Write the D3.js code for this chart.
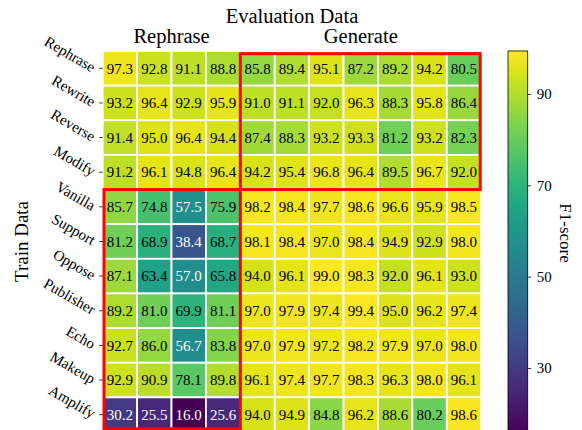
<!DOCTYPE html>
<html>
<head>
<meta charset="utf-8">
<script src="https://cdn.jsdelivr.net/npm/d3@7"></script>
<style>
  html, body { margin: 0; padding: 0; background: #fff; }
  svg { display: block; font-family: "Liberation Serif", "Times New Roman", Times, serif; }
</style>
</head>
<body>
<svg id="chart" width="582" height="430"></svg>
<script>
// Training sets (rows) and evaluation sets (columns)
const trainSets = ["Rephrase", "Rewrite", "Reverse", "Modify", "Vanilla", "Support",
                   "Oppose", "Publisher", "Echo", "Makeup", "Amplify"];
const evalSets = ["Rephrase", "Rewrite", "Reverse", "Modify", "Vanilla", "Support",
                  "Oppose", "Publisher", "Echo", "Makeup", "Amplify"];

// Grouping of the sets: first four are rephrasing types, the rest generated
const groupNames = ["Rephrase", "Generate"];
const groupSizes = [4, 7];

// F1-scores, one row per training set
const scores = [
  [97.3, 92.8, 91.1, 88.8, 85.8, 89.4, 95.1, 87.2, 89.2, 94.2, 80.5],
  [93.2, 96.4, 92.9, 95.9, 91.0, 91.1, 92.0, 96.3, 88.3, 95.8, 86.4],
  [91.4, 95.0, 96.4, 94.4, 87.4, 88.3, 93.2, 93.3, 81.2, 93.2, 82.3],
  [91.2, 96.1, 94.8, 96.4, 94.2, 95.4, 96.8, 96.4, 89.5, 96.7, 92.0],
  [85.7, 74.8, 57.5, 75.9, 98.2, 98.4, 97.7, 98.6, 96.6, 95.9, 98.5],
  [81.2, 68.9, 38.4, 68.7, 98.1, 98.4, 97.0, 98.4, 94.9, 92.9, 98.0],
  [87.1, 63.4, 57.0, 65.8, 94.0, 96.1, 99.0, 98.3, 92.0, 96.1, 93.0],
  [89.2, 81.0, 69.9, 81.1, 97.0, 97.9, 97.4, 99.4, 95.0, 96.2, 97.4],
  [92.7, 86.0, 56.7, 83.8, 97.0, 97.9, 97.2, 98.2, 97.9, 97.0, 98.0],
  [92.9, 90.9, 78.1, 89.8, 96.1, 97.4, 97.7, 98.3, 96.3, 98.0, 96.1],
  [30.2, 25.5, 16.0, 25.6, 94.0, 94.9, 84.8, 96.2, 88.6, 80.2, 98.6]
];

const colorbarTicks = [30, 50, 70, 90];

// ---- layout ----
const plot = { left: 102.7, right: 481.2, top: 51, bottom: 432 };
const cbar = { left: 508, width: 19.7 };

const svg = d3.select("#chart");

const x = d3.scaleBand().domain(evalSets).range([plot.left, plot.right]);
const y = d3.scaleBand().domain(trainSets).range([plot.top, plot.bottom]);
const color = d3.scaleSequential(d3.interpolateViridis).domain(d3.extent(scores.flat()));

// ---- cells ----
const cells = [];
scores.forEach((row, i) => row.forEach((v, j) => cells.push({ r: trainSets[i], c: evalSets[j], v })));

const cellG = svg.append("g");
cellG.selectAll("rect").data(cells).join("rect")
  .attr("x", d => x(d.c))
  .attr("y", d => y(d.r))
  .attr("width", x.bandwidth())
  .attr("height", y.bandwidth())
  .attr("fill", d => color(d.v))
  .attr("stroke", "#fff")
  .attr("stroke-width", 1.8);

cellG.selectAll("text").data(cells).join("text")
  .attr("x", d => x(d.c) + x.bandwidth() / 2)
  .attr("y", d => y(d.r) + y.bandwidth() / 2)
  .attr("dy", "0.35em")
  .attr("text-anchor", "middle")
  .attr("font-size", 15)
  .attr("fill", d => d.v < 60 ? "#fff" : "#000")
  .text(d => d.v.toFixed(1));

// ---- cross-group boxes (off-diagonal blocks) ----
const groupStart = groupSizes.map((s, i) => d3.sum(groupSizes.slice(0, i)));
const boxes = [];
groupNames.forEach((_, gi) => groupNames.forEach((__, gj) => {
  if (gi !== gj) boxes.push({ rows: [groupStart[gi], groupStart[gi] + groupSizes[gi] - 1],
                              cols: [groupStart[gj], groupStart[gj] + groupSizes[gj] - 1] });
}));
const near = (a, b) => Math.abs(a - b) < 0.5;
svg.append("g").selectAll("rect").data(boxes).join("rect")
  .each(function (b) {
    let x0 = x(evalSets[b.cols[0]]), x1 = x(evalSets[b.cols[1]]) + x.bandwidth();
    let y0 = y(trainSets[b.rows[0]]), y1 = y(trainSets[b.rows[1]]) + y.bandwidth();
    if (near(x0, plot.left)) x0 += 1.3;
    if (near(x1, plot.right)) x1 -= 1.0;
    if (near(y0, plot.top)) y0 += 2.7;
    if (near(y1, plot.bottom)) y1 -= 3.2;
    d3.select(this).attr("x", x0).attr("y", y0).attr("width", x1 - x0).attr("height", y1 - y0);
  })
  .attr("fill", "none")
  .attr("stroke", "#ff0000")
  .attr("stroke-width", 3);

// ---- row axis ----
const yAxis = svg.append("g")
  .attr("transform", `translate(${plot.left},0)`)
  .call(d3.axisLeft(y).tickSize(3.5).tickPadding(5.2));
yAxis.select(".domain").remove();
yAxis.attr("font-family", null).attr("font-size", null);
yAxis.selectAll(".tick line").attr("stroke", "#000").attr("stroke-width", 0.8);
yAxis.selectAll(".tick text")
  .attr("font-size", 15)
  .attr("fill", "#000")
  .attr("dy", "0.32em")
  .attr("transform", function () { return `rotate(30 ${d3.select(this).attr("x")} 0)`; });

// ---- titles ----
svg.append("text")
  .attr("x", (plot.left + plot.right) / 2).attr("y", 23.3)
  .attr("text-anchor", "middle").attr("font-size", 20.5)
  .text("Evaluation Data");

svg.append("g").selectAll("text").data(groupNames).join("text")
  .attr("x", (d, i) => {
    const a = x(evalSets[groupStart[i]]);
    const b = x(evalSets[groupStart[i] + groupSizes[i] - 1]) + x.bandwidth();
    return (a + b) / 2;
  })
  .attr("y", 42.7)
  .attr("text-anchor", "middle").attr("font-size", 20.5)
  .text(d => d);

svg.append("text")
  .attr("transform", `translate(28,${(plot.top + plot.bottom) / 2}) rotate(-90)`)
  .attr("text-anchor", "middle").attr("font-size", 19)
  .text("Train Data");

// ---- colorbar ----
const cb = d3.scaleLinear().domain(color.domain()).range([plot.bottom, plot.top]);
const grad = svg.append("defs").append("linearGradient")
  .attr("id", "cbgrad").attr("x1", 0).attr("y1", 1).attr("x2", 0).attr("y2", 0);
d3.range(0, 1.0001, 0.05).forEach(t => {
  grad.append("stop").attr("offset", t)
    .attr("stop-color", color(color.domain()[0] + t * (color.domain()[1] - color.domain()[0])));
});
svg.append("rect")
  .attr("x", cbar.left).attr("y", plot.top)
  .attr("width", cbar.width).attr("height", plot.bottom - plot.top)
  .attr("fill", "url(#cbgrad)")
  .attr("stroke", "#000").attr("stroke-width", 0.8);

const cAxis = svg.append("g")
  .attr("transform", `translate(${cbar.left + cbar.width},0)`)
  .call(d3.axisRight(cb).tickValues(colorbarTicks).tickSize(3.5).tickPadding(5.5));
cAxis.select(".domain").remove();
cAxis.attr("font-family", null).attr("font-size", null);
cAxis.selectAll(".tick line").attr("stroke", "#000").attr("stroke-width", 0.8);
cAxis.selectAll(".tick text").attr("font-size", 15).attr("fill", "#000");

svg.append("text")
  .attr("transform", "translate(560,233) rotate(90)")
  .attr("text-anchor", "middle").attr("font-size", 17)
  .text("F1-score");
</script>
</body>
</html>
